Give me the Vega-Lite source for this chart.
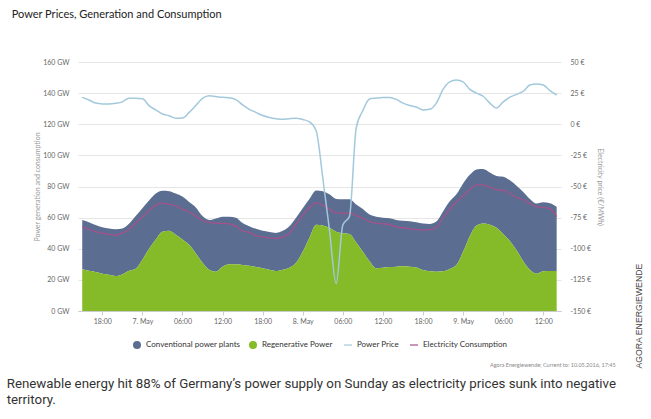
{
  "$schema": "https://vega.github.io/schema/vega-lite/v6.json",
  "background": "#ffffff",
  "padding": {"left": 6, "top": 9, "right": 4, "bottom": 4},
  "title": {
    "text": ["Renewable energy hit 88% of Germany’s power supply on Sunday as electricity prices sunk into negative", "territory."],
    "orient": "bottom",
    "anchor": "start",
    "font": "Roboto",
    "fontSize": 13.3,
    "fontWeight": "normal",
    "color": "#333333",
    "lineHeight": 16,
    "offset": 8,
    "dx": -5
  },
  "resolve": {"scale": {"color": "independent", "stroke": "independent"}, "legend": {"color": "independent", "stroke": "independent"}},
  "vconcat": [
    {
      "title": {
        "text": "AGORA ENERGIEWENDE",
        "orient": "right",
        "anchor": "end",
        "angle": -90,
        "align": "left",
        "baseline": "top",
        "font": "Liberation Sans",
        "fontSize": 8.7,
        "fontWeight": "normal",
        "color": "#444444",
        "offset": 11
      },
      "resolve": {"scale": {"color": "independent", "stroke": "independent"}, "legend": {"color": "independent", "stroke": "independent"}},
      "vconcat": [
        {
          "title": {
            "text": "Power Prices, Generation and Consumption",
            "anchor": "start",
            "font": "Lato",
            "fontSize": 11,
            "fontWeight": "normal",
            "color": "#222222",
            "offset": 38,
            "dx": -22
          },
          "resolve": {"scale": {"color": "independent", "stroke": "independent"}, "legend": {"color": "independent", "stroke": "independent"}},
          "vconcat": [
            {
              "title": {
                "text": "Agora Energiewende; Current to: 10.05.2016, 17:45",
                "orient": "bottom",
                "anchor": "end",
                "font": "Lato",
                "fontSize": 5.5,
                "fontWeight": "normal",
                "color": "#888888",
                "offset": 14,
                "dx": 12
              },
              "width": 483,
              "height": 249,
              "data": {
                "values": [
                  {"t": "2016-05-06T15:00", "conventional": 31.7, "regenerative": 26.8, "consumption": 54.0, "price": 21.6},
                  {"t": "2016-05-06T16:00", "conventional": 31.2, "regenerative": 25.8, "consumption": 52.5, "price": 19.5},
                  {"t": "2016-05-06T17:00", "conventional": 30.2, "regenerative": 25.0, "consumption": 51.0, "price": 17.0},
                  {"t": "2016-05-06T18:00", "conventional": 29.8, "regenerative": 24.0, "consumption": 50.0, "price": 16.3},
                  {"t": "2016-05-06T19:00", "conventional": 29.7, "regenerative": 23.3, "consumption": 49.2, "price": 16.2},
                  {"t": "2016-05-06T20:00", "conventional": 30.0, "regenerative": 22.5, "consumption": 48.8, "price": 16.8},
                  {"t": "2016-05-06T21:00", "conventional": 29.5, "regenerative": 23.5, "consumption": 50.0, "price": 18.0},
                  {"t": "2016-05-06T22:00", "conventional": 30.2, "regenerative": 25.8, "consumption": 52.5, "price": 20.8},
                  {"t": "2016-05-06T23:00", "conventional": 33.8, "regenerative": 27.2, "consumption": 56.5, "price": 20.8},
                  {"t": "2016-05-07T00:00", "conventional": 33.0, "regenerative": 33.0, "consumption": 60.5, "price": 20.5},
                  {"t": "2016-05-07T01:00", "conventional": 31.0, "regenerative": 40.0, "consumption": 64.5, "price": 15.0},
                  {"t": "2016-05-07T02:00", "conventional": 29.5, "regenerative": 46.0, "consumption": 68.0, "price": 11.5},
                  {"t": "2016-05-07T03:00", "conventional": 26.3, "regenerative": 51.0, "consumption": 69.3, "price": 8.2},
                  {"t": "2016-05-07T04:00", "conventional": 25.5, "regenerative": 51.5, "consumption": 68.5, "price": 6.8},
                  {"t": "2016-05-07T05:00", "conventional": 26.5, "regenerative": 49.0, "consumption": 67.5, "price": 4.8},
                  {"t": "2016-05-07T06:00", "conventional": 27.5, "regenerative": 46.0, "consumption": 65.5, "price": 5.0},
                  {"t": "2016-05-07T07:00", "conventional": 27.5, "regenerative": 42.5, "consumption": 63.8, "price": 9.5},
                  {"t": "2016-05-07T08:00", "conventional": 29.5, "regenerative": 37.0, "consumption": 61.0, "price": 15.0},
                  {"t": "2016-05-07T09:00", "conventional": 30.0, "regenerative": 31.0, "consumption": 58.0, "price": 20.8},
                  {"t": "2016-05-07T10:00", "conventional": 32.0, "regenerative": 26.5, "consumption": 57.0, "price": 22.9},
                  {"t": "2016-05-07T11:00", "conventional": 34.2, "regenerative": 25.3, "consumption": 56.5, "price": 22.2},
                  {"t": "2016-05-07T12:00", "conventional": 32.1, "regenerative": 28.5, "consumption": 56.3, "price": 21.6},
                  {"t": "2016-05-07T13:00", "conventional": 30.5, "regenerative": 30.0, "consumption": 56.0, "price": 21.3},
                  {"t": "2016-05-07T14:00", "conventional": 30.0, "regenerative": 30.0, "consumption": 54.5, "price": 19.8},
                  {"t": "2016-05-07T15:00", "conventional": 26.9, "regenerative": 29.6, "consumption": 51.5, "price": 15.5},
                  {"t": "2016-05-07T16:00", "conventional": 25.5, "regenerative": 29.0, "consumption": 50.5, "price": 12.0},
                  {"t": "2016-05-07T17:00", "conventional": 24.5, "regenerative": 28.3, "consumption": 48.5, "price": 9.5},
                  {"t": "2016-05-07T18:00", "conventional": 24.0, "regenerative": 27.5, "consumption": 47.5, "price": 7.0},
                  {"t": "2016-05-07T19:00", "conventional": 24.3, "regenerative": 26.5, "consumption": 47.0, "price": 5.5},
                  {"t": "2016-05-07T20:00", "conventional": 24.5, "regenerative": 25.7, "consumption": 46.7, "price": 4.5},
                  {"t": "2016-05-07T21:00", "conventional": 25.0, "regenerative": 26.5, "consumption": 47.5, "price": 4.0},
                  {"t": "2016-05-07T22:00", "conventional": 26.7, "regenerative": 27.8, "consumption": 50.0, "price": 4.5},
                  {"t": "2016-05-07T23:00", "conventional": 29.0, "regenerative": 31.0, "consumption": 56.0, "price": 4.8},
                  {"t": "2016-05-08T00:00", "conventional": 28.0, "regenerative": 38.0, "consumption": 61.5, "price": 3.8},
                  {"t": "2016-05-08T01:00", "conventional": 25.0, "regenerative": 47.0, "consumption": 66.5, "price": 2.0},
                  {"t": "2016-05-08T02:00", "conventional": 22.0, "regenerative": 55.5, "consumption": 69.5, "price": -5.0},
                  {"t": "2016-05-08T03:00", "conventional": 22.0, "regenerative": 55.0, "consumption": 68.0, "price": -43.0},
                  {"t": "2016-05-08T04:00", "conventional": 21.5, "regenerative": 53.5, "consumption": 65.5, "price": -85.0},
                  {"t": "2016-05-08T05:00", "conventional": 21.0, "regenerative": 51.0, "consumption": 63.0, "price": -128.0},
                  {"t": "2016-05-08T06:00", "conventional": 21.8, "regenerative": 50.0, "consumption": 62.8, "price": -81.0},
                  {"t": "2016-05-08T07:00", "conventional": 22.3, "regenerative": 49.5, "consumption": 62.8, "price": -74.0},
                  {"t": "2016-05-08T08:00", "conventional": 24.5, "regenerative": 44.0, "consumption": 61.5, "price": -3.0},
                  {"t": "2016-05-08T09:00", "conventional": 27.5, "regenerative": 38.0, "consumption": 59.5, "price": 11.0},
                  {"t": "2016-05-08T10:00", "conventional": 30.0, "regenerative": 32.0, "consumption": 57.5, "price": 20.3},
                  {"t": "2016-05-08T11:00", "conventional": 33.1, "regenerative": 27.5, "consumption": 56.4, "price": 21.0},
                  {"t": "2016-05-08T12:00", "conventional": 32.2, "regenerative": 27.8, "consumption": 56.0, "price": 21.5},
                  {"t": "2016-05-08T13:00", "conventional": 31.4, "regenerative": 28.2, "consumption": 55.5, "price": 21.5},
                  {"t": "2016-05-08T14:00", "conventional": 30.0, "regenerative": 28.5, "consumption": 54.0, "price": 20.0},
                  {"t": "2016-05-08T15:00", "conventional": 29.3, "regenerative": 28.7, "consumption": 53.5, "price": 17.0},
                  {"t": "2016-05-08T16:00", "conventional": 29.1, "regenerative": 28.5, "consumption": 52.8, "price": 15.0},
                  {"t": "2016-05-08T17:00", "conventional": 29.0, "regenerative": 28.0, "consumption": 52.3, "price": 13.8},
                  {"t": "2016-05-08T18:00", "conventional": 29.9, "regenerative": 26.3, "consumption": 52.0, "price": 11.5},
                  {"t": "2016-05-08T19:00", "conventional": 30.4, "regenerative": 25.5, "consumption": 52.3, "price": 12.0},
                  {"t": "2016-05-08T20:00", "conventional": 32.2, "regenerative": 25.3, "consumption": 53.5, "price": 17.0},
                  {"t": "2016-05-08T21:00", "conventional": 38.5, "regenerative": 25.5, "consumption": 60.0, "price": 28.0},
                  {"t": "2016-05-08T22:00", "conventional": 43.5, "regenerative": 27.0, "consumption": 65.5, "price": 34.0},
                  {"t": "2016-05-08T23:00", "conventional": 45.5, "regenerative": 29.5, "consumption": 70.0, "price": 35.5},
                  {"t": "2016-05-09T00:00", "conventional": 44.0, "regenerative": 38.0, "consumption": 74.0, "price": 34.0},
                  {"t": "2016-05-09T01:00", "conventional": 39.5, "regenerative": 48.0, "consumption": 78.0, "price": 28.0},
                  {"t": "2016-05-09T02:00", "conventional": 36.0, "regenerative": 55.0, "consumption": 81.0, "price": 25.0},
                  {"t": "2016-05-09T03:00", "conventional": 35.0, "regenerative": 56.3, "consumption": 81.0, "price": 22.5},
                  {"t": "2016-05-09T04:00", "conventional": 33.5, "regenerative": 55.5, "consumption": 79.5, "price": 17.0},
                  {"t": "2016-05-09T05:00", "conventional": 33.3, "regenerative": 53.5, "consumption": 78.0, "price": 13.0},
                  {"t": "2016-05-09T06:00", "conventional": 36.8, "regenerative": 49.5, "consumption": 77.5, "price": 18.0},
                  {"t": "2016-05-09T07:00", "conventional": 39.0, "regenerative": 45.0, "consumption": 75.5, "price": 21.8},
                  {"t": "2016-05-09T08:00", "conventional": 41.5, "regenerative": 39.0, "consumption": 73.0, "price": 24.0},
                  {"t": "2016-05-09T09:00", "conventional": 44.5, "regenerative": 32.0, "consumption": 71.5, "price": 26.5},
                  {"t": "2016-05-09T10:00", "conventional": 45.5, "regenerative": 26.5, "consumption": 69.0, "price": 31.5},
                  {"t": "2016-05-09T11:00", "conventional": 45.0, "regenerative": 24.0, "consumption": 67.0, "price": 32.3},
                  {"t": "2016-05-09T12:00", "conventional": 44.3, "regenerative": 25.5, "consumption": 66.6, "price": 31.5},
                  {"t": "2016-05-09T13:00", "conventional": 43.6, "regenerative": 25.7, "consumption": 65.8, "price": 27.0},
                  {"t": "2016-05-09T14:00", "conventional": 41.3, "regenerative": 25.7, "consumption": 60.6, "price": 23.5}
                ]
              },
              "encoding": {
                "x": {
                  "field": "t",
                  "type": "temporal",
                  "title": null,
                  "scale": {
                    "domain": [
                      {"year": 2016, "month": 5, "date": 6, "hours": 14, "minutes": 22},
                      {"year": 2016, "month": 5, "date": 9, "hours": 14, "minutes": 39}
                    ],
                    "nice": false
                  },
                  "axis": {
                    "values": [
                      {"year": 2016, "month": 5, "date": 6, "hours": 18},
                      {"year": 2016, "month": 5, "date": 7, "hours": 0},
                      {"year": 2016, "month": 5, "date": 7, "hours": 6},
                      {"year": 2016, "month": 5, "date": 7, "hours": 12},
                      {"year": 2016, "month": 5, "date": 7, "hours": 18},
                      {"year": 2016, "month": 5, "date": 8, "hours": 0},
                      {"year": 2016, "month": 5, "date": 8, "hours": 6},
                      {"year": 2016, "month": 5, "date": 8, "hours": 12},
                      {"year": 2016, "month": 5, "date": 8, "hours": 18},
                      {"year": 2016, "month": 5, "date": 9, "hours": 0},
                      {"year": 2016, "month": 5, "date": 9, "hours": 6},
                      {"year": 2016, "month": 5, "date": 9, "hours": 12}
                    ],
                    "labelExpr": "hours(datum.value) == 0 ? timeFormat(datum.value, '%-d. %b') : timeFormat(datum.value, '%H:%M')",
                    "grid": false,
                    "domainColor": "#cccccc",
                    "tickColor": "#cccccc",
                    "tickSize": 4,
                    "labelPadding": 2,
                    "labelFlush": false,
                    "labelOverlap": false
                  }
                }
              },
              "layer": [
                {
                  "layer": [
                    {
                      "transform": [{"fold": ["conventional", "regenerative"], "as": ["series", "gw"]}],
                      "mark": {"type": "area", "opacity": 1, "interpolate": "monotone"},
                      "encoding": {
                        "y": {
                          "field": "gw",
                          "type": "quantitative",
                          "stack": "zero",
                          "title": "Power generation and consumption",
                          "scale": {"domain": [0, 160], "nice": false},
                          "axis": {
                            "values": [0, 20, 40, 60, 80, 100, 120, 140, 160],
                            "labelExpr": "datum.value + ' GW'",
                            "ticks": false,
                            "domain": false,
                            "labelPadding": 9,
                            "titlePadding": 2,
                            "labelOverlap": false,
                            "gridColor": "#e6e6e6"
                          }
                        },
                        "color": {
                          "field": "series",
                          "type": "nominal",
                          "scale": {
                            "domain": ["conventional", "regenerative"],
                            "range": ["#5b6e92", "#85bb28"]
                          },
                          "legend": {
                            "orient": "bottom",
                            "direction": "horizontal",
                            "title": null,
                            "symbolType": "circle",
                            "labelExpr": "datum.value == 'conventional' ? 'Conventional power plants' : 'Regenerative Power'"
                          }
                        },
                        "order": {"field": "series", "sort": "descending"}
                      }
                    },
                    {
                      "mark": {"type": "line", "strokeWidth": 1.3, "interpolate": "monotone"},
                      "encoding": {
                        "y": {
                          "field": "consumption",
                          "type": "quantitative",
                          "title": "Power generation and consumption",
                          "scale": {"domain": [0, 160], "nice": false},
                          "axis": {
                            "values": [0, 20, 40, 60, 80, 100, 120, 140, 160],
                            "labelExpr": "datum.value + ' GW'",
                            "ticks": false,
                            "domain": false,
                            "labelPadding": 9,
                            "titlePadding": 2,
                            "labelOverlap": false,
                            "gridColor": "#e6e6e6"
                          }
                        },
                        "stroke": {
                          "datum": "consumption",
                          "type": "nominal",
                          "scale": {
                            "domain": ["price", "consumption"],
                            "range": ["#a3c9dc", "#a4528a"]
                          },
                          "legend": {
                            "orient": "bottom",
                            "direction": "horizontal",
                            "title": null,
                            "symbolType": "stroke",
                            "symbolStrokeWidth": 1.2,
                            "labelExpr": "datum.value == 'price' ? 'Power Price' : 'Electricity Consumption'"
                          }
                        }
                      }
                    }
                  ]
                },
                {
                  "mark": {"type": "line", "strokeWidth": 1.5, "interpolate": "monotone"},
                  "encoding": {
                    "y": {
                      "field": "price",
                      "type": "quantitative",
                      "title": "Electricity price (€/MWh)",
                      "scale": {"domain": [-150, 50], "nice": false},
                      "axis": {
                        "orient": "right",
                        "values": [-150, -125, -100, -75, -50, -25, 0, 25, 50],
                        "labelExpr": "datum.value + ' €'",
                        "grid": false,
                        "ticks": false,
                        "domain": false,
                        "labelPadding": 9,
                        "titlePadding": 6,
                        "labelOverlap": false
                      }
                    },
                    "stroke": {"datum": "price", "type": "nominal"}
                  }
                }
              ],
              "resolve": {"scale": {"y": "independent"}}
            }
          ]
        }
      ]
    }
  ],
  "config": {
    "font": "Lato",
    "view": {"stroke": null},
    "axis": {
      "labelFont": "Lato",
      "labelFontSize": 7,
      "labelColor": "#666666",
      "titleFont": "Lato",
      "titleFontSize": 7,
      "titleFontWeight": "normal",
      "titleColor": "#999999"
    },
    "legend": {
      "labelFont": "Lato",
      "labelFontSize": 8,
      "labelColor": "#333333",
      "symbolSize": 64,
      "columnPadding": 7,
      "labelOffset": 4,
      "offset": 16,
      "layout": {"bottom": {"anchor": "middle", "direction": "horizontal", "margin": 10}}
    },
    "concat": {"spacing": 0}
  }
}
